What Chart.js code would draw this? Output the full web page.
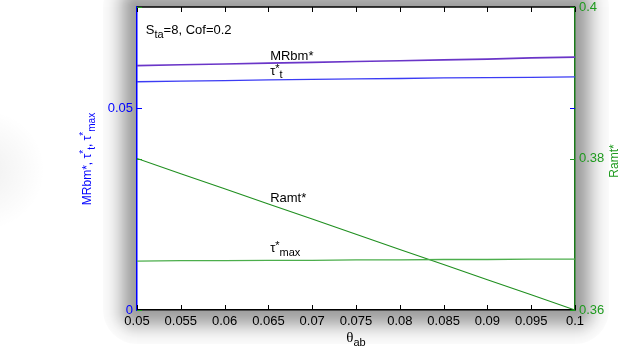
<!DOCTYPE html>
<html>
<head>
<meta charset="utf-8">
<script src="https://cdn.jsdelivr.net/npm/chart.js@4"></script>
<style>
  html, body { margin: 0; padding: 0; background: #ffffff; }
  #wrap { width: 624px; height: 349px; }
</style>
</head>
<body>
<div id="wrap"><canvas id="chart" width="624" height="349"></canvas></div>
<script>
// data
const thetaAb = [0.05, 0.055, 0.06, 0.065, 0.07, 0.075, 0.08, 0.085, 0.09, 0.095, 0.1];
const mrbm    = [0.0605, 0.0607, 0.0609, 0.0611, 0.0613, 0.0615, 0.0617, 0.0619, 0.0621, 0.0624, 0.0626];
const tauT    = [0.0565, 0.05665, 0.0568, 0.05695, 0.0571, 0.0572, 0.0573, 0.05745, 0.0575, 0.0576, 0.0577];
const tauMax  = [0.0121, 0.0122, 0.0122, 0.0123, 0.0123, 0.0124, 0.0124, 0.0125, 0.0125, 0.0126, 0.0126];
const ramt    = [0.38, 0.378, 0.376, 0.374, 0.372, 0.37, 0.368, 0.366, 0.364, 0.362, 0.36];

const xTicks     = [0.05, 0.055, 0.06, 0.065, 0.07, 0.075, 0.08, 0.085, 0.09, 0.095, 0.1];
const leftTicks  = [0, 0.05];
const rightTicks = [0.36, 0.38, 0.4];

const FONT = "Arial, 'Liberation Sans', sans-serif";
const BLUE = "#0000ff";
const GREEN = "#1e9a1e";

const pts = (ys) => thetaAb.map((x, i) => ({ x, y: ys[i] }));
const fmt = (v) => String(+Number(v).toFixed(3));

// draws text made of pieces with their own size and vertical shift
function rich(ctx, x, y, parts, color) {
  ctx.fillStyle = color;
  ctx.textBaseline = "alphabetic";
  ctx.textAlign = "left";
  let cx = x;
  for (const p of parts) {
    ctx.font = (p.s || 13) + "px " + (p.f || FONT);
    ctx.fillText(p.t, cx, y + (p.dy || 0));
    cx += ctx.measureText(p.t).width;
  }
  return cx - x;
}
function richWidth(ctx, parts) {
  let w = 0;
  for (const p of parts) {
    ctx.font = (p.s || 13) + "px " + (p.f || FONT);
    w += ctx.measureText(p.t).width;
  }
  return w;
}

// soft grey shadow round the axes box, built from stacked rounded rects
function boxShadow(ctx, a) {
  const W = 34, peak = 0.34, sigma = 14;
  const T = (d) => (d > W ? 0 : peak * Math.exp(-(d * d) / (2 * sigma * sigma)));
  for (let d = W; d >= 0; d--) {
    const alpha = 1 - (1 - T(d)) / (1 - T(d + 1));
    ctx.fillStyle = "rgba(0,0,0," + alpha.toFixed(4) + ")";
    ctx.beginPath();
    ctx.roundRect(a.left - d, a.top - d, a.right - a.left + 2 * d, a.bottom - a.top + 2 * d, d);
    ctx.fill();
  }
}

const framePlugin = {
  id: "frame",
  beforeDraw(chart) {
    const { ctx, chartArea: a } = chart;
    ctx.save();
    ctx.fillStyle = "#ffffff";
    ctx.fillRect(0, 0, chart.width, chart.height);
    // faint smudge at the far left edge
    const g = ctx.createRadialGradient(-15, 170, 0, -15, 170, 60);
    g.addColorStop(0, "rgba(0,0,0,0.06)");
    g.addColorStop(1, "rgba(0,0,0,0)");
    ctx.fillStyle = g;
    ctx.fillRect(0, 90, 60, 160);
    boxShadow(ctx, a);
    ctx.fillStyle = "#ffffff";
    ctx.fillRect(a.left, a.top, a.right - a.left, a.bottom - a.top);
    ctx.restore();
  },
  afterDatasetsDraw(chart) {
    const { ctx, chartArea: a, scales } = chart;
    const xs = scales.x, yl = scales.y, yr = scales.y1;
    ctx.save();
    // top border
    ctx.strokeStyle = "#000";
    ctx.lineWidth = 1.5;
    ctx.beginPath();
    ctx.moveTo(a.left, a.top);
    ctx.lineTo(a.right, a.top);
    ctx.stroke();

    // inward ticks
    ctx.lineWidth = 1;
    ctx.strokeStyle = "#000";
    for (const v of xTicks) {
      const px = Math.round(xs.getPixelForValue(v)) + 0.5;
      ctx.beginPath();
      ctx.moveTo(px, a.bottom); ctx.lineTo(px, a.bottom - 5);
      ctx.moveTo(px, a.top); ctx.lineTo(px, a.top + 5);
      ctx.stroke();
    }
    ctx.strokeStyle = BLUE;
    for (const v of leftTicks) {
      const py = Math.round(yl.getPixelForValue(v)) + 0.5;
      ctx.beginPath();
      ctx.moveTo(a.left, py); ctx.lineTo(a.left + 5, py);
      ctx.moveTo(a.right, py); ctx.lineTo(a.right - 5, py);
      ctx.stroke();
    }
    ctx.strokeStyle = GREEN;
    for (const v of rightTicks) {
      const py = Math.round(yr.getPixelForValue(v)) + 0.5;
      ctx.beginPath();
      ctx.moveTo(a.right, py); ctx.lineTo(a.right - 5, py);
      ctx.moveTo(a.left, py); ctx.lineTo(a.left + 5, py);
      ctx.stroke();
    }

    // annotations inside the plot
    const lx = xs.getPixelForValue(0.0652);
    rich(ctx, xs.getPixelForValue(0.0510), yl.getPixelForValue(0.0682),
      [{ t: "S" }, { t: "ta", s: 11, dy: 4 }, { t: "=8, Cof=0.2" }], "#000");
    rich(ctx, lx, yl.getPixelForValue(0.0618), [{ t: "MRbm*" }], "#000");
    rich(ctx, lx, yl.getPixelForValue(0.0581),
      [{ t: "τ" }, { t: "*", s: 11, dy: -3 }, { t: "t", s: 11, dy: 3 }], "#000");
    rich(ctx, lx, yr.getPixelForValue(0.3743), [{ t: "Ramt*" }], "#000");
    rich(ctx, lx, yl.getPixelForValue(0.0143),
      [{ t: "τ" }, { t: "*", s: 11, dy: -3 }, { t: "max", s: 11, dy: 4 }], "#000");

    // x axis title
    const xt = [{ t: "θ", s: 15, f: "'Liberation Serif', 'Times New Roman', serif" }, { t: "ab", s: 11, dy: 4 }];
    rich(ctx, (a.left + a.right) / 2 - richWidth(ctx, xt) / 2, 342, xt, "#000");

    // left y axis title (rotated)
    const lt = [
      { t: "MRbm*, τ", s: 12 }, { t: "*", s: 10, dy: -4 }, { t: "t", s: 10, dy: 4 },
      { t: ", τ", s: 12 }, { t: "*", s: 10, dy: -4 }, { t: "max", s: 10, dy: 4 }
    ];
    const lw = richWidth(ctx, lt);
    ctx.save();
    ctx.translate(91, 159);
    ctx.rotate(-Math.PI / 2);
    rich(ctx, -lw / 2, 0, lt, BLUE);
    ctx.restore();

    // right y axis title (rotated)
    const rt = [{ t: "Ramt*", s: 12 }];
    const rw = richWidth(ctx, rt);
    ctx.save();
    ctx.translate(618, 161);
    ctx.rotate(-Math.PI / 2);
    rich(ctx, -rw / 2, 0, rt, GREEN);
    ctx.restore();

    ctx.restore();
  }
};

const noPadY = (w) => (s) => { s.width = w; s.paddingTop = 0; s.paddingBottom = 0; };

const ctx = document.getElementById("chart").getContext("2d");
new Chart(ctx, {
  type: "line",
  data: {
    datasets: [
      { label: "MRbm*", data: pts(mrbm), yAxisID: "y", borderColor: "#6a35c8", borderWidth: 1.6 },
      { label: "tau_t", data: pts(tauT), yAxisID: "y", borderColor: "#3c3cf4", borderWidth: 1.3 },
      { label: "tau_max", data: pts(tauMax), yAxisID: "y", borderColor: "#4cae4c", borderWidth: 1.3 },
      { label: "Ramt*", data: pts(ramt), yAxisID: "y1", borderColor: "#1f8f1f", borderWidth: 1.1 }
    ]
  },
  options: {
    responsive: false,
    devicePixelRatio: 1,
    animation: false,
    elements: { point: { radius: 0 }, line: { tension: 0 } },
    layout: { padding: { top: 7, left: 0, right: 0, bottom: 0 } },
    plugins: { legend: { display: false }, tooltip: { enabled: false } },
    scales: {
      x: {
        type: "linear",
        min: 0.05,
        max: 0.1,
        afterBuildTicks: (s) => { s.ticks = xTicks.map((v) => ({ value: v })); },
        afterFit: (s) => { s.height = 39; s.paddingLeft = 0; s.paddingRight = 0; },
        ticks: { color: "#000", font: { size: 13, family: FONT }, padding: 4, maxRotation: 0, autoSkip: false, callback: fmt },
        grid: { drawOnChartArea: false, drawTicks: false },
        border: { color: "#000", width: 1.5 }
      },
      y: {
        position: "left",
        min: 0,
        max: 0.075,
        afterBuildTicks: (s) => { s.ticks = leftTicks.map((v) => ({ value: v })); },
        afterFit: noPadY(137),
        ticks: { color: BLUE, font: { size: 13, family: FONT }, padding: 4, callback: fmt },
        grid: { drawOnChartArea: false, drawTicks: false },
        border: { color: BLUE, width: 1.5 }
      },
      y1: {
        position: "right",
        min: 0.36,
        max: 0.4,
        afterBuildTicks: (s) => { s.ticks = rightTicks.map((v) => ({ value: v })); },
        afterFit: noPadY(49),
        ticks: { color: GREEN, font: { size: 13, family: FONT }, padding: 4, callback: fmt },
        grid: { drawOnChartArea: false, drawTicks: false },
        border: { color: "#1a7a1a", width: 1.5 }
      }
    }
  },
  plugins: [framePlugin]
});
</script>
</body>
</html>
